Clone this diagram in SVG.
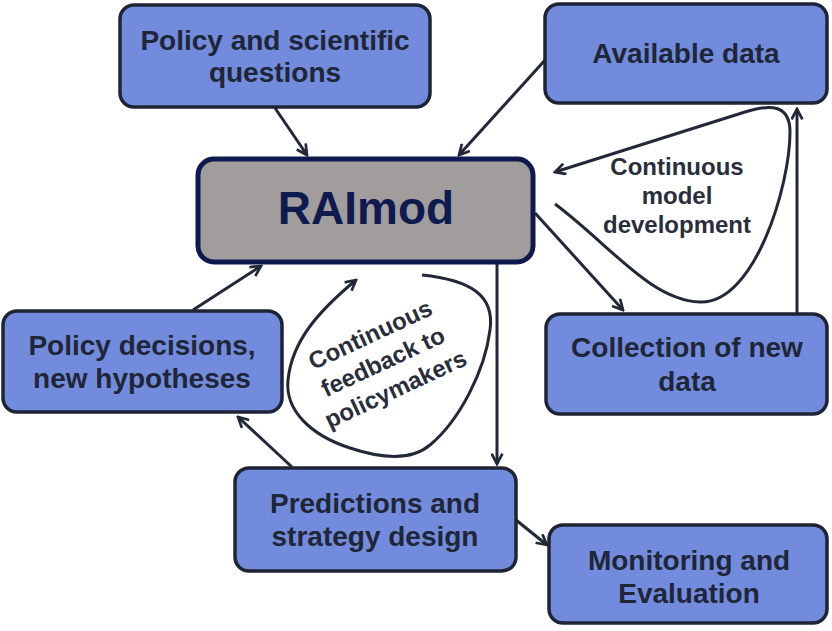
<svg xmlns="http://www.w3.org/2000/svg" width="832" height="631" viewBox="0 0 832 631">
<defs>
<style>
.node rect{fill:#728bdc;stroke:#1f2435;stroke-width:3.5}
.lbl{font-family:"Liberation Sans",Arial,sans-serif;font-weight:bold;font-size:28px;fill:#1f2637;text-anchor:middle}
.loop{font-family:"Liberation Sans",Arial,sans-serif;font-weight:bold;font-size:24px;fill:#2a2e3a;text-anchor:middle}
.c{fill:none;stroke:#222838;stroke-width:3;marker-end:url(#ah)}
</style>
<marker id="ah" viewBox="0 0 12 12" refX="10.5" refY="6" markerWidth="13" markerHeight="13" markerUnits="userSpaceOnUse" orient="auto">
<path d="M1,1 L10.5,6 L1,11" fill="none" stroke="#222838" stroke-width="2.5"/>
</marker>
</defs>
<rect width="832" height="631" fill="#ffffff"/>
<g id="connectors">
<path class="c" d="M275,108 L307,155"/>
<path class="c" d="M546,59 L459,155"/>
<path class="c" d="M535,213 L623,310"/>
<path class="c" d="M797,313 L797,109"/>
<path class="c" d="M555,204 C610,245 650,300 700,302 C755,304 790,185 790,132 C790,104 770,104 745,112 L555,172"/>
<path class="c" d="M497,263 L497,464"/>
<path class="c" d="M516,520 L547,545"/>
<path class="c" d="M292,467 L238,417"/>
<path class="c" d="M193,310 L261,266"/>
<path class="c" d="M422,275 C470,280 495,295 490,330 C485,370 460,420 430,445 C410,462 380,458 350,448 C310,435 285,410 288,380 C292,340 320,310 356,280"/>
</g>
<g id="loop-model" class="loop">
<text x="677" y="175">Continuous</text>
<text x="677" y="204">model</text>
<text x="677" y="233">development</text>
</g>
<g id="loop-feedback" class="loop" transform="translate(383,362) rotate(-25)">
<text x="0" y="-22">Continuous</text>
<text x="0" y="8">feedback to</text>
<text x="0" y="38">policymakers</text>
</g>
<g id="n-policy-questions" class="node">
<rect x="120" y="5" width="310" height="102" rx="14"/>
<text class="lbl" x="275" y="50">Policy and scientific</text>
<text class="lbl" x="275" y="82">questions</text>
</g>
<g id="n-available-data" class="node">
<rect x="545" y="4" width="282" height="99" rx="14"/>
<text class="lbl" x="686" y="63">Available data</text>
</g>
<g id="n-raimod">
<rect x="198" y="159" width="335" height="103" rx="16" fill="#a19d9d" stroke="#0e1a4f" stroke-width="5"/>
<text x="366" y="224" font-family="'Liberation Sans',Arial,sans-serif" font-weight="bold" font-size="46" fill="#0e1a50" text-anchor="middle">RAImod</text>
</g>
<g id="n-policy-decisions" class="node">
<rect x="3" y="311" width="279" height="101" rx="14"/>
<text class="lbl" x="142" y="355">Policy decisions,</text>
<text class="lbl" x="142" y="388">new hypotheses</text>
</g>
<g id="n-collection" class="node">
<rect x="546" y="314" width="281" height="100" rx="14"/>
<text class="lbl" x="687" y="357">Collection of new</text>
<text class="lbl" x="687" y="391">data</text>
</g>
<g id="n-predictions" class="node">
<rect x="235" y="468" width="281" height="103" rx="14"/>
<text class="lbl" x="375" y="513">Predictions and</text>
<text class="lbl" x="375" y="546">strategy design</text>
</g>
<g id="n-monitoring" class="node">
<rect x="549" y="525" width="278" height="98" rx="14"/>
<text class="lbl" x="689" y="570">Monitoring and</text>
<text class="lbl" x="689" y="603">Evaluation</text>
</g>
</svg>
